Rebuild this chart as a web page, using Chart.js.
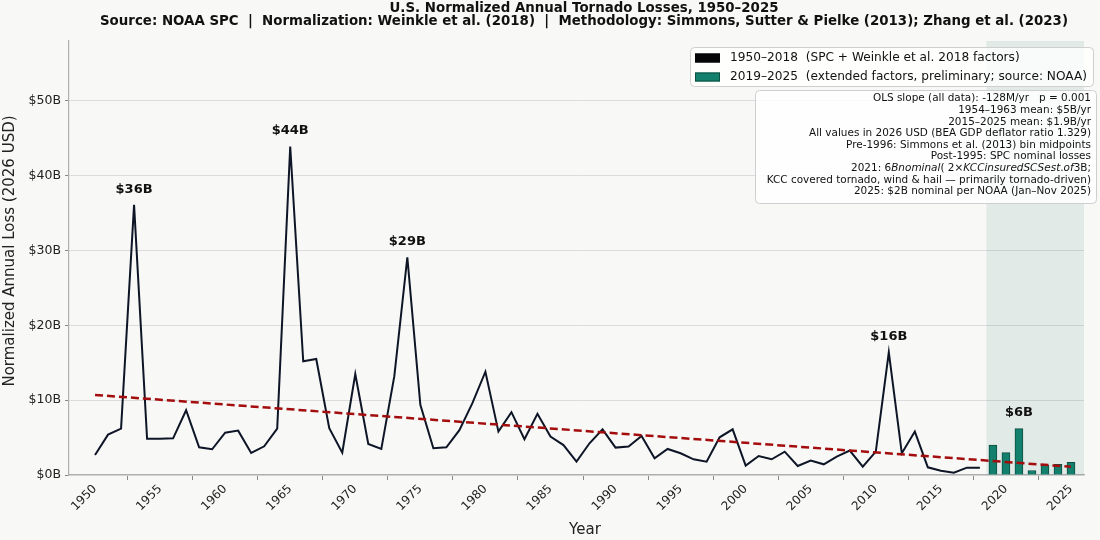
<!DOCTYPE html>
<html>
<head>
<meta charset="utf-8">
<script src="https://cdn.jsdelivr.net/npm/chart.js@4.4.1/dist/chart.umd.min.js"></script>
<style>
  html, body { margin: 0; padding: 0; background: #f8f8f6; }
  #wrap { width: 1100px; height: 540px; }
</style>
</head>
<body>
<div id="wrap"><canvas id="c" width="1100" height="540"></canvas></div>
<script>
// --- data ---
const lineYears = [];
for (let y = 1950; y <= 2018; y++) lineYears.push(y);
const lineLoss = [
  2.68, 5.4, 6.2, 36.1, 4.86, 4.85, 4.9, 8.65, 3.7, 3.44,
  5.66, 5.93, 2.94, 3.83, 6.2, 43.9, 15.2, 15.5, 6.25, 2.99,
  13.5, 4.15, 3.48, 13.2, 29.1, 9.37, 3.57, 3.7, 6.0, 9.6,
  13.8, 5.8, 8.4, 4.78, 8.17, 5.13, 4.0, 1.78, 4.24, 6.1,
  3.66, 3.8, 5.22, 2.23, 3.48, 2.9, 2.1, 1.78, 5.04, 6.1,
  1.25, 2.54, 2.1, 3.12, 1.2, 1.92, 1.43, 2.45, 3.26, 1.12,
  3.12, 16.4, 2.9, 5.8, 1.03, 0.58, 0.3, 0.98, 0.98
];
const barYears = [2019, 2020, 2021, 2022, 2023, 2024, 2025];
const barLoss = [4.0, 3.0, 6.2, 0.6, 1.3, 1.43, 1.7];
const trendYears = [1950, 2025];
const trendLoss = [10.7, 1.1];
const peakYears = [1953, 1965, 1974, 2011, 2021];
const xTicks = [1950, 1955, 1960, 1965, 1970, 1975, 1980, 1985, 1990, 1995, 2000, 2005, 2010, 2015, 2020, 2025];
const yTicks = [0, 10, 20, 30, 40, 50];
const shadeSpan = [2018.5, 2026];

const titleLines = [
  'U.S. Normalized Annual Tornado Losses, 1950\u20132025',
  'Source: NOAA SPC  |  Normalization: Weinkle et al. (2018)  |  Methodology: Simmons, Sutter & Pielke (2013); Zhang et al. (2023)'
];
const noteLines = [
  [['OLS slope (all data): -128M/yr   p = 0.001', 'n']],
  [['1954\u20131963 mean: $5B/yr', 'n']],
  [['2015\u20132025 mean: $1.9B/yr', 'n']],
  [['All values in 2026 USD (BEA GDP deflator ratio 1.329)', 'n']],
  [['Pre-1996: Simmons et al. (2013) bin midpoints', 'n']],
  [['Post-1995: SPC nominal losses', 'n']],
  [['2021: 6', 'n'], ['Bnominal', 'i'], ['( 2\u00d7', 'n'], ['KCCinsuredSCSest', 'i'], ['.', 'n'], ['of', 'i'], ['3B;', 'n']],
  [['KCC covered tornado, wind & hail \u2014 primarily tornado-driven)', 'n']],
  [['2025: $2B nominal per NOAA (Jan\u2013Nov 2025)', 'n']]
];

const FONT = '"DejaVu Sans", Verdana, sans-serif';
const LINE_COLOR = '#0d1526';
const BAR_COLOR = '#12806c';
const BAR_EDGE = '#0b4e42';
const TREND_COLOR = '#a30d0d';

function peakValue(yr) {
  const i = lineYears.indexOf(yr);
  if (i >= 0) return lineLoss[i];
  return barLoss[barYears.indexOf(yr)];
}

const deco = {
  id: 'deco',
  beforeDraw(chart) {
    const ctx = chart.ctx;
    ctx.save();
    ctx.fillStyle = '#f8f8f6';
    ctx.fillRect(0, 0, chart.width, chart.height);
    ctx.restore();
  },
  beforeDatasetsDraw(chart) {
    const { ctx, chartArea: a, scales: { x } } = chart;
    const x0 = x.getPixelForValue(shadeSpan[0]);
    const x1 = x.getPixelForValue(shadeSpan[1]);
    ctx.save();
    ctx.fillStyle = 'rgba(40, 120, 100, 0.10)';
    ctx.fillRect(x0, a.top, x1 - x0, a.bottom - a.top);
    ctx.restore();
  },
  afterDatasetsDraw(chart) {
    const { ctx, scales: { x, y } } = chart;
    ctx.save();
    ctx.fillStyle = '#111';
    ctx.font = 'bold 13px ' + FONT;
    ctx.textAlign = 'center';
    ctx.textBaseline = 'bottom';
    peakYears.forEach(yr => {
      const v = peakValue(yr);
      ctx.fillText('$' + Math.round(v) + 'B', x.getPixelForValue(yr), y.getPixelForValue(v) - 9);
    });
    ctx.restore();
  },
  afterDraw(chart) {
    const ctx = chart.ctx;
    ctx.save();
    // title, fitted to the reference widths
    ctx.fillStyle = '#111';
    ctx.textAlign = 'center';
    ctx.textBaseline = 'middle';
    const fitW = [389, 968];
    const ty = [8, 21.5];
    titleLines.forEach((t, i) => {
      ctx.font = 'bold 14px ' + FONT;
      const w = ctx.measureText(t).width;
      ctx.save();
      ctx.translate(584, ty[i]);
      ctx.scale(fitW[i] / w, 1);
      ctx.fillText(t, 0, 0);
      ctx.restore();
    });

    // axis titles
    ctx.font = '15px ' + FONT;
    ctx.fillStyle = '#222';
    ctx.fillText('Year', 585, 530);
    ctx.save();
    ctx.translate(10, 251);
    ctx.rotate(-Math.PI / 2);
    ctx.fillText('Normalized Annual Loss (2026 USD)', 0, 0);
    ctx.restore();

    // legend
    const rr = (x, y, w, h, r) => {
      ctx.beginPath();
      ctx.moveTo(x + r, y);
      ctx.arcTo(x + w, y, x + w, y + h, r);
      ctx.arcTo(x + w, y + h, x, y + h, r);
      ctx.arcTo(x, y + h, x, y, r);
      ctx.arcTo(x, y, x + w, y, r);
      ctx.closePath();
    };
    ctx.fillStyle = 'rgba(255,255,255,0.8)';
    ctx.strokeStyle = '#cfcfcf';
    ctx.lineWidth = 1;
    rr(690.5, 47.5, 403, 39, 4);
    ctx.fill(); ctx.stroke();
    const legendItems = [
      { label: chart.data.datasets[1].label, fill: '#050608', edge: '#050608' },
      { label: chart.data.datasets[2].label, fill: BAR_COLOR, edge: BAR_EDGE }
    ];
    ctx.font = '13px ' + FONT;
    ctx.textAlign = 'left';
    ctx.textBaseline = 'middle';
    const legW = ctx.measureText(legendItems[1].label).width;
    const legSx = 357 / legW;
    legendItems.forEach((it, i) => {
      const cy = 58 + i * 19;
      ctx.fillStyle = it.fill;
      ctx.fillRect(695, cy - 4.5, 25, 9);
      ctx.strokeStyle = it.edge;
      ctx.strokeRect(695.5, cy - 4, 24, 8);
      ctx.fillStyle = '#111';
      ctx.save();
      ctx.translate(730, cy);
      ctx.scale(legSx, 1);
      ctx.fillText(it.label, 0, 0);
      ctx.restore();
    });

    // notes box
    ctx.fillStyle = 'rgba(255,255,255,0.85)';
    ctx.strokeStyle = '#cfcfcf';
    rr(755.5, 90.5, 341, 113, 4);
    ctx.fill(); ctx.stroke();
    ctx.fillStyle = '#111';
    ctx.textAlign = 'left';
    ctx.textBaseline = 'middle';
    ctx.font = '11px ' + FONT;
    const noteSx = 282 / ctx.measureText(noteLines[3][0][0]).width;
    noteLines.forEach((segs, li) => {
      const fonts = segs.map(s => (s[1] === 'i' ? 'italic ' : '') + '11px ' + FONT);
      let total = 0;
      segs.forEach((s, k) => { ctx.font = fonts[k]; total += ctx.measureText(s[0]).width; });
      ctx.save();
      ctx.translate(1091, 98.5 + li * 11.6);
      ctx.scale(noteSx, 1);
      let cx = -total;
      segs.forEach((s, k) => {
        ctx.font = fonts[k];
        ctx.fillText(s[0], cx, 0);
        cx += ctx.measureText(s[0]).width;
      });
      ctx.restore();
    });
    ctx.restore();
  }
};

new Chart(document.getElementById('c'), {
  data: {
    datasets: [
      {
        type: 'line',
        label: 'OLS trend',
        data: trendYears.map((x, i) => ({ x, y: trendLoss[i] })),
        borderColor: TREND_COLOR,
        borderWidth: 2.5,
        borderDash: [8, 4],
        pointRadius: 0,
        order: 0
      },
      {
        type: 'line',
        label: '1950\u20132018  (SPC + Weinkle et al. 2018 factors)',
        data: lineYears.map((x, i) => ({ x, y: lineLoss[i] })),
        borderColor: LINE_COLOR,
        borderWidth: 2,
        pointRadius: 0,
        tension: 0,
        order: 1
      },
      {
        type: 'bar',
        label: '2019\u20132025  (extended factors, preliminary; source: NOAA)',
        data: barYears.map((x, i) => ({ x, y: barLoss[i] })),
        backgroundColor: BAR_COLOR,
        borderColor: BAR_EDGE,
        borderWidth: 1,
        barThickness: 8,
        order: 2
      }
    ]
  },
  options: {
    responsive: false,
    animation: false,
    devicePixelRatio: 1,
    layout: { padding: { top: 41, right: 16, left: 0, bottom: 0 } },
    plugins: { legend: { display: false }, tooltip: { enabled: false }, title: { display: false } },
    scales: {
      x: {
        type: 'linear',
        min: 1948,
        max: 2026,
        offset: false,
        afterBuildTicks: s => { s.ticks = xTicks.map(v => ({ value: v })); },
        afterFit: s => { s.height = 65; },
        ticks: {
          minRotation: 45, maxRotation: 45, autoSkip: false,
          color: '#222', font: { family: FONT, size: 12 }, padding: 2,
          callback: v => String(v)
        },
        grid: { drawOnChartArea: false, drawTicks: true, tickLength: 5, tickColor: '#888' },
        border: { color: '#b0b0b0', width: 1.2 }
      },
      y: {
        min: 0,
        max: 58,
        afterBuildTicks: s => { s.ticks = yTicks.map(v => ({ value: v })); },
        afterFit: s => { s.width = 69; },
        ticks: {
          color: '#222', font: { family: FONT, size: 12.5 }, padding: 4,
          callback: v => '$' + v + 'B'
        },
        grid: { color: '#dcdcdc', lineWidth: 1, tickLength: 4, tickColor: '#888' },
        border: { color: '#b0b0b0', width: 1.2 }
      }
    }
  },
  plugins: [deco]
});
</script>
</body>
</html>
